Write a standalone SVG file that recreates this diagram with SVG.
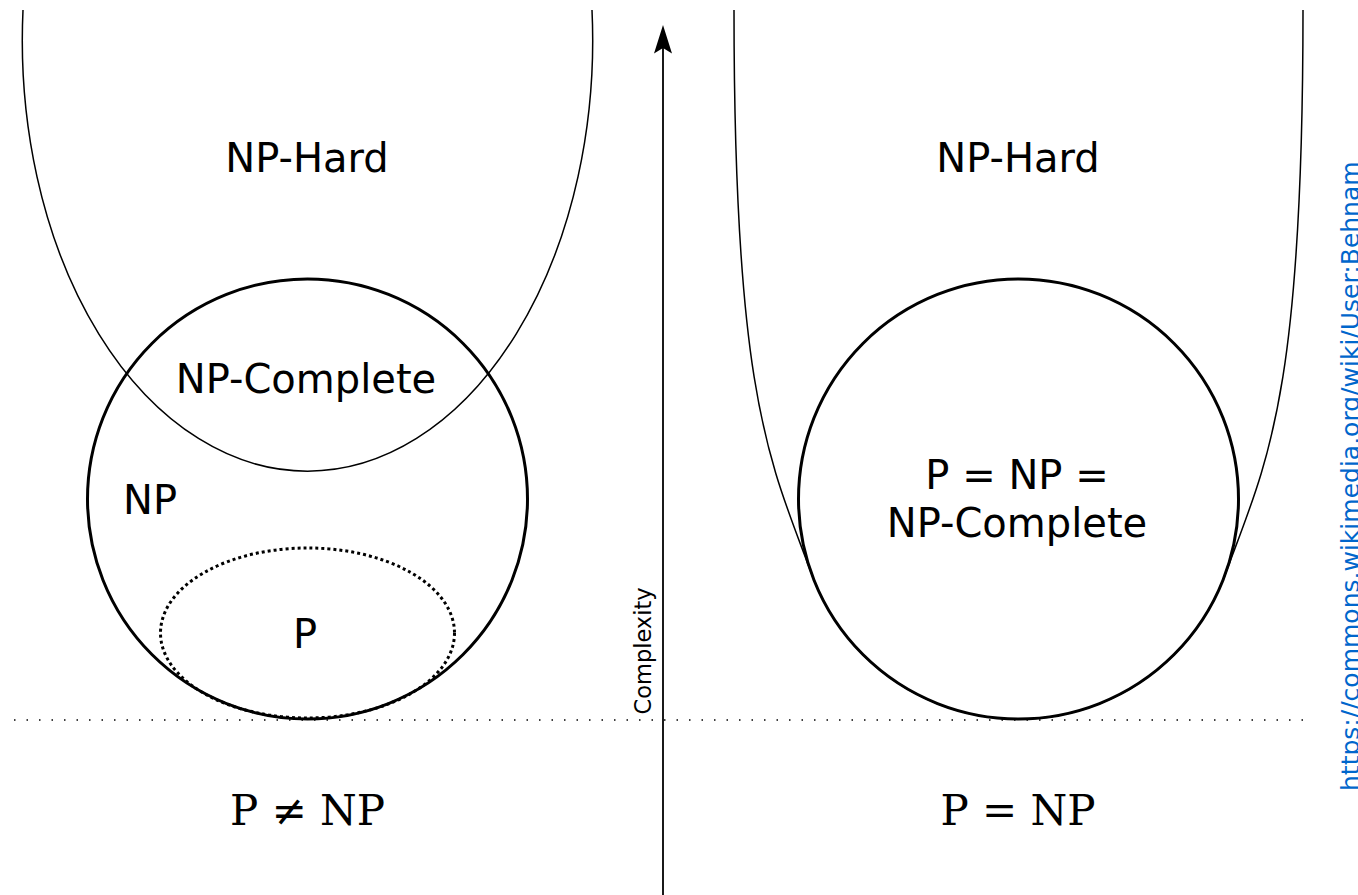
<svg xmlns="http://www.w3.org/2000/svg" width="1358" height="895" viewBox="0 0 1358 895">
<defs>
<style>
.lbl{font-family:"DejaVu Sans","Liberation Sans",sans-serif;font-size:40px;fill:#000;text-anchor:middle}
.eq{font-family:"DejaVu Serif","Liberation Serif",serif;font-size:42px;fill:#000;text-anchor:middle}
.thin{fill:none;stroke:#000;stroke-width:1.5}
.thick{fill:none;stroke:#000;stroke-width:3}
</style>
<marker id="arrow" markerUnits="userSpaceOnUse" markerWidth="40" markerHeight="40" refX="0" refY="0" orient="auto" overflow="visible">
<path d="M23,0 L-5.5,-9 L0,0 L-5.5,9 Z" fill="#000"/>
</marker>
</defs>
<rect width="1358" height="895" fill="#fff"/>
<g id="connectors">
<line x1="663" y1="895" x2="663" y2="48" stroke="#000" stroke-width="1.8" marker-end="url(#arrow)"/>
<line x1="14" y1="720" x2="1312" y2="720" stroke="#000" stroke-width="1.5" stroke-dasharray="1.5 11"/>
</g>
<g id="np-hard-left">
<path class="thin" d="M23,10 A285.2,431 0 1 0 592,10"/>
<text class="lbl" x="307" y="172">NP-Hard</text>
</g>
<g id="np-left">
<circle class="thick" cx="307.5" cy="499" r="220"/>
<text class="lbl" x="306" y="393">NP-Complete</text>
<text class="lbl" x="150" y="514">NP</text>
</g>
<g id="p-left">
<ellipse cx="307.5" cy="633" rx="147" ry="85" fill="none" stroke="#000" stroke-width="3" stroke-dasharray="3 3"/>
<text class="lbl" x="305" y="648">P</text>
</g>
<g id="np-hard-right">
<path class="thin" d="M734,10 C734,400 770.6,462.4 812,575 A220,220 0 0 0 1225,575 C1266.4,462.4 1303,400 1303,10"/>
<text class="lbl" x="1018" y="172">NP-Hard</text>
</g>
<g id="p-np-right">
<circle class="thick" cx="1018.5" cy="499" r="220"/>
<text class="lbl" x="1017" y="489">P = NP =</text>
<text class="lbl" x="1017" y="537">NP-Complete</text>
</g>
<g id="axis-label">
<text transform="translate(651,714.5) rotate(-90)" font-family="DejaVu Sans, Liberation Sans, sans-serif" font-size="22.5" fill="#000">Complexity</text>
</g>
<g id="captions">
<text class="eq" x="307.5" y="825">P ≠ NP</text>
<text class="eq" x="1018" y="825">P = NP</text>
</g>
<g id="credit">
<text transform="translate(1359,791) rotate(-90)" font-family="DejaVu Sans, Liberation Sans, sans-serif" font-size="25" fill="#0066cc">https://commons.wikimedia.org/wiki/User:Behnam</text>
</g>
</svg>
